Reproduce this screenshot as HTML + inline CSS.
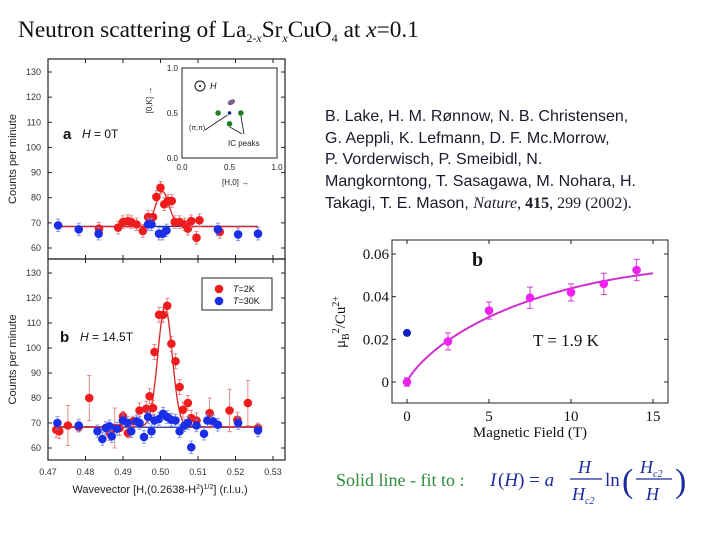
<!DOCTYPE html>
<html><head><meta charset="utf-8"><style>
body{margin:0;background:#fff;}
svg{display:block;font-family:"Liberation Sans",sans-serif;}
</style></head><body>
<svg id="s" width="720" height="540" viewBox="0 0 720 540">
<text x="18" y="37" font-family="Liberation Serif,serif" font-size="23.3" fill="#111">Neutron scattering of La<tspan font-size="12" dy="5">2-<tspan font-style="italic">x</tspan></tspan><tspan dy="-5">Sr</tspan><tspan font-size="12" dy="5" font-style="italic">x</tspan><tspan dy="-5">CuO</tspan><tspan font-size="12" dy="5">4</tspan><tspan dy="-5">  at </tspan><tspan font-style="italic">x</tspan>=0.1</text>
<g font-size="16" fill="#1a1a2a">
<text x="325" y="121">B. Lake, H. M. Rønnow, N. B. Christensen,</text>
<text x="325" y="143">G. Aeppli, K. Lefmann, D. F. Mc.Morrow,</text>
<text x="325" y="164">P. Vorderwisch, P. Smeibidl,  N.</text>
<text x="325" y="186">Mangkorntong, T. Sasagawa, M. Nohara, H.</text>
<text x="325" y="208">Takagi, T. E. Mason, <tspan font-family="Liberation Serif,serif" font-style="italic">Nature</tspan><tspan font-family="Liberation Serif,serif">, <tspan font-weight="bold">415</tspan>, 299 (2002).</tspan></text>
</g>
<g font-family="Liberation Serif,serif">
<text x="336" y="486" font-size="18" fill="#2e8b3a">Solid line - fit to :</text>
<text x="490" y="486" font-size="19" fill="#1a2aa0" font-style="italic">I</text>
<text x="498" y="486" font-size="19" fill="#1a2aa0">(<tspan font-style="italic">H</tspan>) = <tspan font-style="italic">a</tspan></text>
<text x="578" y="473" font-size="18" fill="#1a2aa0" font-style="italic">H</text>
<line x1="570" y1="479" x2="602" y2="479" stroke="#1a2aa0" stroke-width="1.2"/>
<text x="572" y="500" font-size="18" fill="#1a2aa0" font-style="italic">H<tspan font-size="10" dy="4">c2</tspan></text>
<text x="605" y="486" font-size="19" fill="#1a2aa0">ln</text>
<text x="622" y="492" font-size="34" fill="#1a2aa0">(</text>
<text x="640" y="473" font-size="18" fill="#1a2aa0" font-style="italic">H<tspan font-size="10" dy="4">c2</tspan></text>
<line x1="636" y1="479" x2="672" y2="479" stroke="#1a2aa0" stroke-width="1.2"/>
<text x="646" y="500" font-size="18" fill="#1a2aa0" font-style="italic">H</text>
<text x="675" y="492" font-size="34" fill="#1a2aa0">)</text>
</g>
<g id="left"></g>
<g id="right"></g>
</svg>
<script>
// ---- Left panels data ----
const aRedX=[0.4836,0.4887,0.4900,0.4913,0.4922,0.4936,0.4953,0.4967,0.4980,0.4989,0.5000,0.5010,0.5020,0.5030,0.5038,0.5051,0.5064,0.5073,0.5082,0.5096,0.5104,0.5158];
const aRedY=[67.7,68.1,70.3,70.7,70.3,69.4,66.8,72.3,72.3,80.3,84.0,77.4,78.7,78.7,70.3,70.3,69.4,67.7,70.7,64.1,71.0,66.4];
const aBlueX=[0.4727,0.4782,0.4835,0.4967,0.4976,0.4996,0.5006,0.5016,0.5153,0.5207,0.5260];
const aBlueY=[69.0,67.4,65.7,69.4,69.4,65.7,65.7,67.0,67.4,65.4,65.7];
const bRedX=[0.4722,0.4730,0.4753,0.4782,0.4810,0.4864,0.4878,0.4891,0.4900,0.4913,0.4927,0.4944,0.4962,0.4971,0.4980,0.4984,0.4996,0.5007,0.5018,0.5029,0.5040,0.5051,0.5060,0.5073,0.5082,0.5096,0.5131,0.5184,0.5205,0.5233,0.5260];
const bRedY=[67.3,66.7,69.0,68.4,80.0,66.0,68.0,68.0,72.7,66.0,70.7,75.0,75.7,80.7,76.0,98.4,113.3,113.3,116.9,101.7,94.7,84.4,75.3,78.0,72.0,71.0,74.0,75.0,71.3,78.0,68.0];
const bRedErr=[3,3,8,2,9,3,8,3,2,2,2,3,3,3,3,3,3,3,3,3,3,3,3,3,3,3,6,8.5,3,9,2];
const bBlueX=[0.4725,0.4782,0.4832,0.4845,0.4854,0.4864,0.4870,0.4884,0.4900,0.4913,0.4922,0.4936,0.4944,0.4956,0.4967,0.4976,0.4984,0.4996,0.5007,0.5018,0.5029,0.5040,0.5051,0.5064,0.5073,0.5082,0.5096,0.5116,0.5125,0.5140,0.5153,0.5207,0.5260];
const bBlueY=[70.0,69.0,66.7,63.6,68.0,68.7,64.7,67.7,71.0,70.0,66.7,70.7,70.0,64.4,72.4,66.7,71.0,71.6,73.7,72.4,71.3,71.0,66.7,69.0,70.0,60.3,69.0,65.7,71.0,70.7,69.3,70.0,67.0];
const aFit=[68.5,14,0.5005,0.0018]; // baseline, amp, center, sigma
const bFit=[68.5,48,0.5012,0.0019];
const blueBase=[68.6,68.3];
const leftYTicks=[60,70,80,90,100,110,120,130];
const leftXTicks=[0.47,0.48,0.49,0.50,0.51,0.52,0.53];
// ---- Right chart data ----
const fieldX=[0,2.5,5,7.5,10,12,14];
const momentY=[0,0.019,0.0335,0.0395,0.042,0.046,0.0525];
const momentErr=[0.002,0.004,0.004,0.005,0.004,0.005,0.005];
const zeroFieldBlue=[0,0.023];
const fitParams=[0.147,60]; // a, Hc2
const rXTicks=[0,5,10,15];
const rYTicks=[0,0.02,0.04,0.06];
const rYLabels=["0","0.02","0.04","0.06"];

const NS="http://www.w3.org/2000/svg";
function mk(p,t,a){const e=document.createElementNS(NS,t);for(const k in a)e.setAttribute(k,a[k]);p.appendChild(e);return e;}
const L=document.getElementById('left'), R=document.getElementById('right');
const xS=v=>48+(v-0.47)/0.06*225;
const yA=v=>72+(130-v)/70*176;
const yB=v=>273+(130-v)/70*175;

function panel(y0,y1,yS,name){
  const g=mk(L,'g',{});
  
  
  mk(g,'rect',{x:48,y:y0,width:237,height:y1-y0,fill:'none',stroke:'#222','stroke-width':1.2});
  leftYTicks.forEach(t=>{const y=yS(t);
    mk(g,'line',{x1:48,y1:y,x2:52,y2:y,stroke:'#222'});
    mk(g,'line',{x1:281,y1:y,x2:285,y2:y,stroke:'#222'});
    const tx=mk(g,'text',{x:41,y:y+3,'font-size':9,'text-anchor':'end',fill:'#333'});tx.textContent=t;});
  leftXTicks.forEach(t=>{const x=xS(t);
    mk(g,'line',{x1:x,y1:y0,x2:x,y2:y0+4,stroke:'#222'});
    mk(g,'line',{x1:x,y1:y1,x2:x,y2:y1-4,stroke:'#222'});});
  const yt=mk(g,'text',{x:0,y:0,'font-size':11,'text-anchor':'middle',fill:'#222',transform:`translate(16,${(y0+y1)/2}) rotate(-90)`});
  yt.textContent='Counts per minute';
  
  
  return g;
}
function fitLine(g,p,yS,color){
  let d='';for(let i=0;i<=120;i++){const v=0.472+i*0.054/120;const c=p[0]+p[1]*Math.exp(-((v-p[2])**2)/(2*p[3]*p[3]));d+=(i?'L':'M')+xS(v).toFixed(1)+','+yS(c).toFixed(1);}
  const e=mk(g,'path',{d:d,fill:'none',stroke:color,'stroke-width':1.3});
  
  
}
function pts(g,X,Y,E,yS,fill,errc){
  X.forEach((v,i)=>{const x=xS(v),y=yS(Y[i]);const er=E?E[i]:2.5;
    mk(g,'line',{x1:x,y1:yS(Y[i]-er),x2:x,y2:yS(Y[i]+er),stroke:errc,'stroke-width':0.8});
    mk(g,'line',{x1:x-2,y1:yS(Y[i]-er),x2:x+2,y2:yS(Y[i]-er),stroke:errc,'stroke-width':0.8});
    mk(g,'line',{x1:x-2,y1:yS(Y[i]+er),x2:x+2,y2:yS(Y[i]+er),stroke:errc,'stroke-width':0.8});
    const c=mk(g,'circle',{cx:x,cy:y,r:4.3,fill:fill});
    
    });
}
// panel a
const ga=panel(59,259,yA,'panel-a');
mk(ga,'line',{x1:xS(0.472),y1:yA(blueBase[0]),x2:xS(0.526),y2:yA(blueBase[0]),stroke:'#2030a0','stroke-width':1.2});
fitLine(ga,aFit,yA,'#e02020');
pts(ga,aRedX,aRedY,null,yA,'#ee1c1c','#e07070');
pts(ga,aBlueX,aBlueY,null,yA,'#1a2ee8','#7080e0');
{const t=mk(ga,'text',{x:63,y:139,'font-size':15,'font-weight':'bold',fill:'#111'});t.textContent='a';
 const u=mk(ga,'text',{x:82,y:138,'font-size':12,fill:'#111'});u.innerHTML='<tspan font-style="italic">H</tspan> = 0T';}
// inset
{const g=mk(L,'g',{});
 
 
 const ix=v=>182+v*95, iy=v=>158-v*90;
 mk(g,'rect',{x:182,y:68,width:95,height:90,fill:'#fff',stroke:'#222','stroke-width':1});
 [[0,'0.0'],[0.5,'0.5'],[1,'1.0']].forEach(([v,s])=>{
  const a=mk(g,'text',{x:178,y:iy(v)+3,'font-size':8,'text-anchor':'end',fill:'#222'});a.textContent=s;
  const b=mk(g,'text',{x:ix(v),y:170,'font-size':8,'text-anchor':'middle',fill:'#222'});b.textContent=s;});
 const h=mk(g,'text',{x:222,y:185,'font-size':8,fill:'#222'});h.textContent='[H,0] →';
 const k=mk(g,'text',{x:0,y:0,'font-size':8,fill:'#222','text-anchor':'middle',transform:'translate(152,100) rotate(-90)'});k.textContent='[0,K] →';
 mk(g,'circle',{cx:200,cy:86,r:5,fill:'none',stroke:'#111','stroke-width':1});
 mk(g,'circle',{cx:200,cy:86,r:1,fill:'#111'});
 const H=mk(g,'text',{x:210,y:89,'font-size':9,'font-style':'italic',fill:'#111'});H.textContent='H';
 mk(g,'ellipse',{cx:ix(0.52),cy:iy(0.62),rx:4,ry:2.5,fill:'#806090',transform:`rotate(-30 ${ix(0.52)} ${iy(0.62)})`});
 [[0.38,0.5],[0.62,0.5],[0.5,0.38]].forEach(([a,b])=>mk(g,'circle',{cx:ix(a),cy:iy(b),r:2.8,fill:'#208020'}));
 mk(g,'circle',{cx:ix(0.5),cy:iy(0.5),r:1.8,fill:'#1a2080'});
 mk(g,'line',{x1:205,y1:130,x2:ix(0.5)-2,y2:iy(0.5)+2,stroke:'#111','stroke-width':0.8});
 mk(g,'line',{x1:242,y1:134,x2:ix(0.5),y2:iy(0.38)+3,stroke:'#111','stroke-width':0.8});
 mk(g,'line',{x1:244,y1:134,x2:ix(0.62),y2:iy(0.5)+3,stroke:'#111','stroke-width':0.8});
 const p=mk(g,'text',{x:189,y:130,'font-size':7,fill:'#222'});p.textContent='(π,π)';
 const q=mk(g,'text',{x:228,y:146,'font-size':8,fill:'#222'});q.textContent='IC peaks';}
// panel b
const gb=panel(259,460,yB,'panel-b');
mk(gb,'line',{x1:xS(0.472),y1:yB(blueBase[1]),x2:xS(0.526),y2:yB(blueBase[1]),stroke:'#2030a0','stroke-width':1.2});
fitLine(gb,bFit,yB,'#e02020');
pts(gb,bRedX,bRedY,bRedErr,yB,'#ee1c1c','#e07070');
pts(gb,bBlueX,bBlueY,null,yB,'#1a2ee8','#7080e0');
{const t=mk(gb,'text',{x:60,y:342,'font-size':15,'font-weight':'bold',fill:'#111'});t.textContent='b';
 const u=mk(gb,'text',{x:80,y:341,'font-size':12,fill:'#111'});u.innerHTML='<tspan font-style="italic">H</tspan> = 14.5T';
 leftXTicks.forEach(t=>{const e=mk(gb,'text',{x:xS(t),y:475,'font-size':9,'text-anchor':'middle',fill:'#333'});e.textContent=t.toFixed(2);});
 const xt=mk(gb,'text',{x:160,y:493,'font-size':11,'text-anchor':'middle',fill:'#222'});
 xt.innerHTML='Wavevector [H,(0.2638-H<tspan font-size="7" dy="-4">2</tspan><tspan dy="4">)</tspan><tspan font-size="7" dy="-4">1/2</tspan><tspan dy="4">] (r.l.u.)</tspan>';
 
 
 const lg=mk(gb,'g',{});
 
 
 mk(lg,'rect',{x:202,y:278,width:70,height:32,fill:'#fff',stroke:'#222','stroke-width':1});
 mk(lg,'circle',{cx:219,cy:289,r:4.3,fill:'#ee1c1c'});
 mk(lg,'circle',{cx:219,cy:301,r:4.3,fill:'#1a2ee8'});
 const l1=mk(lg,'text',{x:233,y:292,'font-size':9,fill:'#111'});l1.innerHTML='<tspan font-style="italic">T</tspan>=2K';
 const l2=mk(lg,'text',{x:233,y:304,'font-size':9,fill:'#111'});l2.innerHTML='<tspan font-style="italic">T</tspan>=30K';}

// ---- Right chart ----
const xR=v=>407+v/15*246, yR=v=>382-v/0.06*128;
{const g=mk(R,'g',{'font-family':'Liberation Serif,serif'});
 
 
 mk(g,'rect',{x:392,y:240,width:276,height:163,fill:'none',stroke:'#222','stroke-width':1});
 rXTicks.forEach(t=>{const x=xR(t);mk(g,'line',{x1:x,y1:403,x2:x,y2:399,stroke:'#222'});mk(g,'line',{x1:x,y1:240,x2:x,y2:244,stroke:'#222'});
  const e=mk(g,'text',{x:x,y:421,'font-size':15,'text-anchor':'middle',fill:'#111'});e.textContent=t;});
 rYTicks.forEach((t,i)=>{const y=yR(t);mk(g,'line',{x1:392,y1:y,x2:396,y2:y,stroke:'#222'});mk(g,'line',{x1:668,y1:y,x2:664,y2:y,stroke:'#222'});
  const e=mk(g,'text',{x:389,y:y+5,'font-size':15,'text-anchor':'end',fill:'#111'});e.textContent=rYLabels[i];});
 const xt=mk(g,'text',{x:530,y:437,'font-size':15,'text-anchor':'middle',fill:'#111'});xt.textContent='Magnetic Field (T)';
 
 
 const yt=mk(g,'text',{x:0,y:0,'font-size':15,'text-anchor':'middle',fill:'#111',transform:'translate(345,322) rotate(-90)'});
 yt.innerHTML='μ<tspan font-size="10" dy="4">B</tspan><tspan font-size="10" dy="-10">2</tspan><tspan dy="6">/Cu</tspan><tspan font-size="10" dy="-6">2+</tspan>';
 
 
 const b=mk(g,'text',{x:472,y:266,'font-size':20,'font-weight':'bold',fill:'#111'});b.textContent='b';
 const T=mk(g,'text',{x:533,y:346,'font-size':17,fill:'#111'});T.textContent='T = 1.9 K';
 let d='';for(let i=0;i<=100;i++){const h=0.05+i*(15-0.05)/100;const v=fitParams[0]*(h/fitParams[1])*Math.log(fitParams[1]/h);d+=(i?'L':'M')+xR(h).toFixed(1)+','+yR(v).toFixed(1);}
 const fc=mk(g,'path',{d:d,fill:'none',stroke:'#d030d0','stroke-width':2});
 
 
 fieldX.forEach((h,i)=>{const x=xR(h);const e=momentErr[i];
  mk(g,'line',{x1:x,y1:yR(momentY[i]-e),x2:x,y2:yR(momentY[i]+e),stroke:'#d040d0','stroke-width':1});
  mk(g,'line',{x1:x-3,y1:yR(momentY[i]-e),x2:x+3,y2:yR(momentY[i]-e),stroke:'#d040d0','stroke-width':1});
  mk(g,'line',{x1:x-3,y1:yR(momentY[i]+e),x2:x+3,y2:yR(momentY[i]+e),stroke:'#d040d0','stroke-width':1});
  const c=mk(g,'circle',{cx:x,cy:yR(momentY[i]),r:4.3,fill:'#ee22ee'});
  
  });
 const bc=mk(g,'circle',{cx:xR(zeroFieldBlue[0]),cy:yR(zeroFieldBlue[1]),r:4,fill:'#1020c0'});
 
 }
</script>
</body></html>
